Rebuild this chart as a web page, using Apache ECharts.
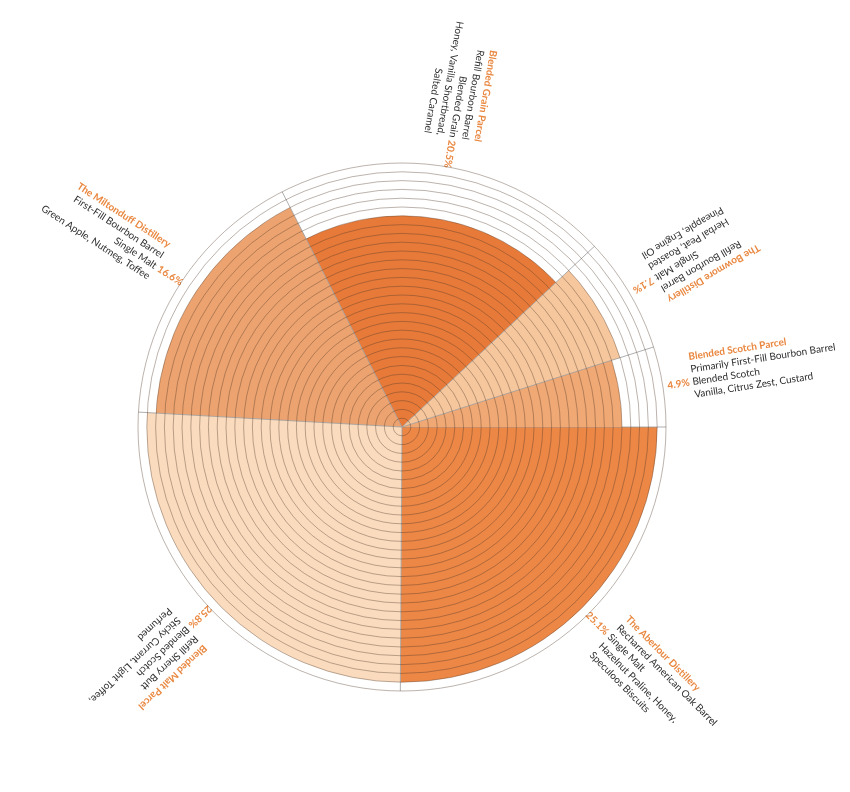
<!DOCTYPE html>
<html>
<head>
    <meta charset="UTF-8"/>
    <title>whisky casks</title>
    <script type="text/javascript" src="https://cdn.jsdelivr.net/npm/echarts@6/dist/echarts.min.js"></script>
    <style>
        html, body { margin: 0; padding: 0; background: #fff; }
        #chart { width: 850px; height: 792px; }
    </style>
</head>
<body>
<div id="chart"></div>
<script>
    // order is clockwise from 3 o'clock
    var titles = ['The Aberlour Distillery', 'Blended Malt Parcel', 'The Miltonduff Distillery',
        'Blended Grain Parcel', 'The Bowmore Distillery', 'Blended Scotch Parcel'];
    var casks = ['Recharred American Oak Barrel', 'Refill Sherry Butt', 'First-Fill Bourbon Barrel',
        'Refill Bourbon Barrel', 'Refill Bourbon Barrel', 'Primarily First-Fill Bourbon Barrel'];
    var kinds = ['Single Malt', 'Blended Scotch', 'Single Malt', 'Blended Grain', 'Single Malt', 'Blended Scotch'];
    var notes = [
        ['Hazelnut Praline, Honey,', 'Speculoos Biscuits'],
        ['Sticky Currant, Light Toffee,', 'Perfumed'],
        ['Green Apple, Nutmeg, Toffee'],
        ['Honey, Vanilla Shortbread,', 'Salted Caramel'],
        ['Herbal Peat, Roasted', 'Pineapple, Engine Oil'],
        ['Vanilla, Citrus Zest, Custard']
    ];
    var shares = [25.1, 25.8, 16.6, 20.5, 7.1, 4.9];   // % of the blend = angle
    var rings = [29, 29, 28, 24, 26, 25];              // radius in rings
    var colors = ['#EC8746', '#FADBBE', '#EDA36F', '#E77A39', '#F6C79D', '#F0A874'];
    var readInward = [false, false, true, true, true, false];

    var maxRing = 30;
    var labelRing = 33.4;
    var orange = '#E9873F';
    var lh = 12.7;

    var data = [];
    var acc = 0;
    for (var i = 0; i < shares.length; i++) {
        data.push([acc, acc + shares[i], rings[i]]);
        acc += shares[i];
    }

    function renderSector(params, api) {
        var i = params.dataIndex;
        var cs = params.coordSys;
        var start = api.value(0), end = api.value(1), r = api.value(2);
        var p0 = api.coord([r, start]);
        var p1 = api.coord([r, end]);
        var edge = api.coord([maxRing, start]);
        var a = api.coord([labelRing, (start + end) / 2]);

        var inward = readInward[i];
        var read = -a[3] + (inward ? Math.PI : 0);
        var align = inward ? 'right' : 'left';
        var lines = [titles[i], casks[i], kinds[i]].concat(notes[i]);
        var kids = [];
        for (var k = 0; k < lines.length; k++) {
            kids.push({
                type: 'text',
                x: 0, y: (k - 2) * lh,
                style: {
                    text: lines[k],
                    fill: k === 0 ? orange : '#2e2e2e',
                    font: (k === 0 ? 'bold ' : '') + '10px Lato',
                    align: align,
                    verticalAlign: 'middle'
                }
            });
        }
        kids.push({
            type: 'text',
            x: inward ? 3 : -3, y: 0,
            style: {
                text: shares[i].toFixed(1) + '%',
                fill: orange,
                font: 'bold 10px Lato',
                align: inward ? 'left' : 'right',
                verticalAlign: 'middle'
            }
        });

        return {
            type: 'group',
            children: [{
                type: 'sector',
                shape: {cx: cs.cx, cy: cs.cy, r0: 0, r: p0[2],
                    startAngle: -p0[3], endAngle: -p1[3], clockwise: true},
                style: {fill: colors[i]}
            }, {
                type: 'line',
                shape: {x1: cs.cx, y1: cs.cy, x2: edge[0], y2: edge[1]},
                style: {stroke: '#9a9a9a', lineWidth: 0.8}
            }, {
                type: 'group',
                x: a[0], y: a[1],
                rotation: -read,
                children: kids
            }]
        };
    }

    var chart = echarts.init(document.getElementById('chart'));
    chart.setOption({
        backgroundColor: '#fff',
        animation: false,
        polar: {center: [402, 427], radius: 264},
        angleAxis: {
            type: 'value', min: 0, max: 100, startAngle: 0, clockwise: true,
            axisLine: {show: false}, axisTick: {show: false}, axisLabel: {show: false},
            splitLine: {show: false}
        },
        radiusAxis: {
            type: 'value', min: 0, max: maxRing, interval: 1, z: 10,
            axisLine: {show: false}, axisTick: {show: false}, axisLabel: {show: false},
            splitLine: {show: true, lineStyle: {color: 'rgba(80,55,40,0.38)', width: 1}}
        },
        series: [{
            type: 'custom',
            coordinateSystem: 'polar',
            renderItem: renderSector,
            data: data
        }]
    });
</script>
</body>
</html>
